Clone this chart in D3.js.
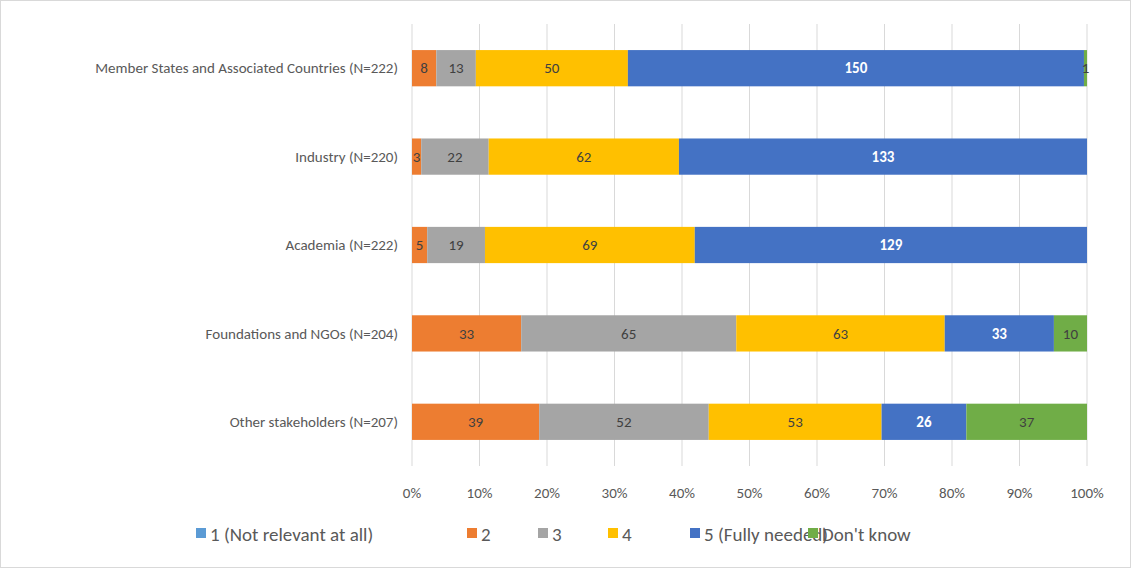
<!DOCTYPE html>
<html><head><meta charset="utf-8">
<script src="https://cdn.jsdelivr.net/npm/d3@7"></script>
<style>body{margin:0;background:#fff}text{font-family:Calibri,Carlito,"Liberation Sans",Arial,sans-serif}</style>
</head><body><svg id="c" width="1131" height="568"></svg>
<script>
const categories = ["Member States and Associated Countries (N=222)","Industry (N=220)","Academia (N=222)","Foundations and NGOs (N=204)","Other stakeholders (N=207)"];
const seriesNames = ["1 (Not relevant at all)","2","3","4","5 (Fully needed)","Don't know"];
const colors = ["#5B9BD5","#ED7D31","#A5A5A5","#FFC000","#4472C4","#70AD47"];
const labelColors = ["#404040","#404040","#404040","#404040","#ffffff","#404040"];
const values = [
  [0,8,13,50,150,1],
  [0,3,22,62,133,0],
  [0,5,19,69,129,0],
  [0,33,65,63,33,10],
  [0,39,52,53,26,37]
];
const ticks = [0,0.1,0.2,0.3,0.4,0.5,0.6,0.7,0.8,0.9,1];

const svg = d3.select("#c");
svg.append("rect").attr("x",0.5).attr("y",0.5).attr("width",1130).attr("height",567).attr("fill","#fff").attr("stroke","#d9d9d9");
const x = d3.scaleLinear().domain([0,1]).range([412,1087]);
const y = d3.scaleBand().domain(categories).range([24,466]).paddingInner(0.59).paddingOuter(0.295);

svg.append("g").selectAll("line").data(ticks).join("line")
  .attr("x1",d=>x(d)).attr("x2",d=>x(d)).attr("y1",24).attr("y2",466)
  .attr("stroke","#d9d9d9");

svg.append("g").selectAll("text").data(ticks).join("text")
  .attr("x",d=>x(d)).attr("y",498).attr("text-anchor","middle")
  .attr("font-size",15).attr("fill","#595959").text(d3.format(".0%"));

svg.append("g").selectAll("text").data(categories).join("text")
  .attr("x",398).attr("y",d=>y(d)+y.bandwidth()/2).attr("dy","0.35em")
  .attr("text-anchor","end").attr("font-size",15).attr("fill","#595959").text(d=>d);

categories.forEach((c,i)=>{
  const total = d3.sum(values[i]);
  let acc = 0;
  const g = svg.append("g");
  values[i].forEach((v,j)=>{
    const x0 = x(acc/total), x1 = x((acc+v)/total);
    acc += v;
    if (!v) return;
    g.append("rect").attr("x",x0).attr("y",y(c)).attr("width",x1-x0).attr("height",y.bandwidth()).attr("fill",colors[j]);
    g.append("text").attr("x",(x0+x1)/2).attr("y",y(c)+y.bandwidth()/2).attr("dy","0.35em")
      .attr("text-anchor","middle").attr("font-size",15).attr("fill",labelColors[j])
      .attr("font-weight",j===4?"bold":"normal").text(v);
  });
});

const legX = [196,467,538,608,690,808];
const leg = svg.append("g");
seriesNames.forEach((s,j)=>{
  leg.append("rect").attr("x",legX[j]).attr("y",528).attr("width",10).attr("height",10).attr("fill",colors[j]);
  leg.append("text").attr("x",legX[j]+14).attr("y",534).attr("dy","0.35em").attr("font-size",19).attr("fill","#595959").text(s);
});
</script></body></html>
